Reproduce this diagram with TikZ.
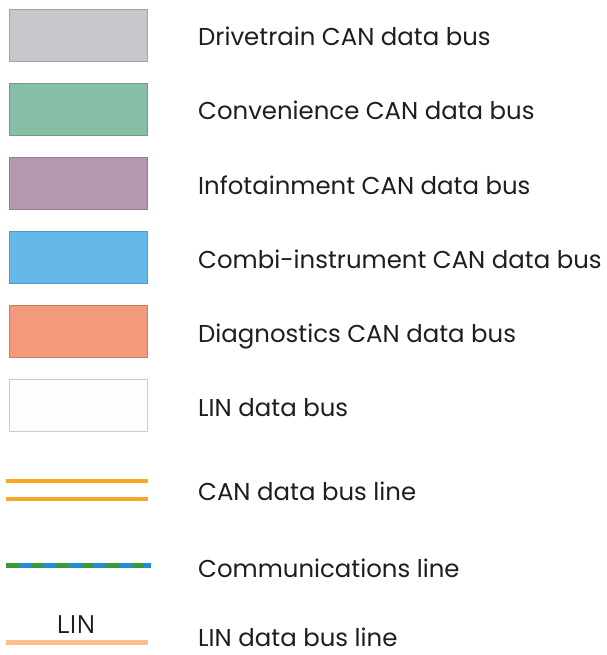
\documentclass[tikz,border=0pt]{standalone}
\usepackage{fontspec}
\setmainfont{Poppins}
\newfontfamily\tagfont{Open Sans}
\usetikzlibrary{positioning}
\definecolor{drivegray}{HTML}{C8C6CA}
\definecolor{convgreen}{HTML}{86BFA5}
\definecolor{infopurple}{HTML}{B697B2}
\definecolor{combiblue}{HTML}{64B9E8}
\definecolor{diagorange}{HTML}{F39A7C}
\definecolor{linwhite}{HTML}{FDFDFD}
\definecolor{canorange}{HTML}{F9A825}
\definecolor{commgreen}{HTML}{3A9A3A}
\definecolor{commblue}{HTML}{1E90D8}
\definecolor{linpeach}{HTML}{FDBF8A}
\definecolor{txt}{HTML}{1E1E1E}
\begin{document}
\begin{tikzpicture}[x=1pt,y=-1pt,font=\fontsize{24.4}{28}\selectfont,
  swatch/.style={draw=#1!82!black,fill=#1,line width=1.4pt,minimum width=138pt,minimum height=52pt,inner sep=0pt},
  legendtext/.style={anchor=base west,text=txt,inner sep=0pt}]
\useasboundingbox (0,0) rectangle (606,655);
\foreach \i/\col/\txt in {0/drivegray/Drivetrain CAN data bus,1/convgreen/Convenience CAN data bus,2/infopurple/Infotainment CAN data bus,3/combiblue/Combi-instrument CAN data bus,4/diagorange/Diagnostics CAN data bus} {
  \node[swatch=\col] (box\i) at (78.5,{35.5+74*\i}) {};
  \node[legendtext] (lab\i) at (198,{46+74*\i}) {\txt};
}
\node[swatch=linwhite,draw=black!20] (box5) at (78.5,405.5) {};
\node[legendtext] (lab5) at (198,416) {LIN data bus};
% bus lines
\draw[canorange,line width=4.5pt] (6,481) -- (148,481);
\draw[canorange,line width=4.5pt] (6,499) -- (148,499);
\node[legendtext] (lab6) at (198,500.5) {CAN data bus line};
\draw[commblue,line width=5pt] (6,565) -- (151,565);
\draw[commgreen,line width=5pt,dash pattern=on 12.5pt off 12.5pt] (6,565) -- (151,565);
\node[legendtext] (lab7) at (198,577) {Communications line};
\draw[linpeach,line width=5pt] (6,642) -- (148,642);
\node[anchor=base,text=txt,font=\tagfont\fontsize{25}{28}\selectfont,inner sep=0pt] (lintag) at (76,633) {LIN};
\node[legendtext] (lab8) at (198,646) {LIN data bus line};
\end{tikzpicture}
\end{document}
